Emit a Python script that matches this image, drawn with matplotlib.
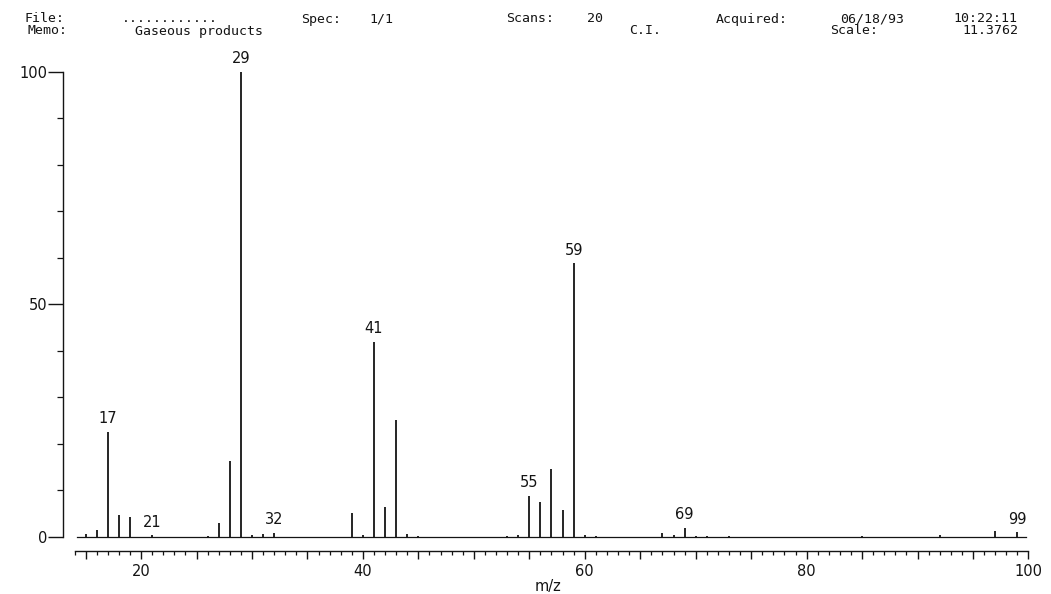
import matplotlib
matplotlib.use('Agg')
import matplotlib.pyplot as plt
from matplotlib.ticker import FixedLocator, FuncFormatter

# spectrum (m/z, relative intensity %)
mz = [15, 16, 17, 18, 19, 21, 26, 27, 28, 29, 30, 31, 32,
      39, 40, 41, 42, 43, 44, 45, 53, 54, 55, 56, 57, 58, 59, 60, 61,
      67, 68, 69, 70, 71, 73, 85, 92, 97, 99]
intensity = [0.7, 1.5, 22.6, 4.7, 4.3, 0.4, 0.3, 3.0, 16.3, 100.0, 0.4, 0.6, 0.9,
             5.1, 0.5, 41.9, 6.4, 25.1, 0.6, 0.3, 0.3, 0.4, 8.8, 7.5, 14.6, 5.8, 58.8, 0.5, 0.3,
             0.9, 0.5, 2.0, 0.3, 0.3, 0.2, 0.2, 0.4, 1.2, 1.0]
labelled = [17, 21, 29, 32, 41, 55, 59, 69, 99]

xlabels = [20, 40, 60, 80, 100]
ylabels = [0, 50, 100]

header_1 = ['File:', '............', 'Spec:', '1/1', 'Scans:', '20',
            'Acquired:', '06/18/93', '10:22:11']
header_2 = ['Memo:', 'Gaseous products', 'C.I.', 'Scale:', '11.3762']

# layout (pixels of the 1051x594 picture)
W, H = 1051, 594
hx_1 = [44, 170, 321, 381, 530, 595, 752, 872, 985]
hx_2 = [47, 199, 645, 854, 990]
ink = '#141414'

plt.rcParams['font.family'] = ['DejaVu Sans']

fig = plt.figure(figsize=(W / 100, H / 100), dpi=100)
ax = fig.add_axes([63 / W, 1 - 537 / H, (1034 - 63) / W, (537 - 71.5) / H])
ax.set_xlim(12.96, 100.5)
ax.set_ylim(0, 100)

# sticks and baseline
ax.plot([14.2, 99.8], [0, 0], color=ink, lw=0.9, clip_on=False)
ax.vlines(mz, 0, intensity, color=ink, lw=1.3, clip_on=False)

for m in labelled:
    v = intensity[mz.index(m)]
    ax.annotate(str(m), (m, v), xytext=(0, 4), textcoords='offset points',
                ha='center', va='bottom', fontsize=10.5, color=ink)

for s in ['top', 'right']:
    ax.spines[s].set_visible(False)
ax.spines['left'].set_bounds(0, 100)
ax.spines['bottom'].set_position(('outward', 10))
ax.spines['bottom'].set_bounds(14, 100)
for s in ['left', 'bottom']:
    ax.spines[s].set_color(ink)
    ax.spines[s].set_linewidth(1.0)

ax.xaxis.set_major_locator(FixedLocator(list(range(15, 101, 5))))
ax.xaxis.set_minor_locator(FixedLocator(list(range(14, 101))))
ax.xaxis.set_major_formatter(FuncFormatter(lambda v, p: '%d' % v if int(v) in xlabels else ''))
ax.yaxis.set_major_locator(FixedLocator(ylabels))
ax.yaxis.set_minor_locator(FixedLocator(list(range(10, 100, 10))))

ax.tick_params(axis='x', which='major', direction='out', length=5.8, width=1,
               pad=3.5, labelsize=10.5, colors=ink)
ax.tick_params(axis='x', which='minor', direction='out', length=2.6, width=0.9, colors=ink)
ax.tick_params(axis='y', which='major', direction='out', length=10.8, width=1,
               pad=0.7, labelsize=10.5, colors=ink)
ax.tick_params(axis='y', which='minor', direction='out', length=4.3, width=0.9, colors=ink)

ax.set_xlabel('m/z', fontsize=10.5, color=ink, labelpad=0)

for t, x in zip(header_1, hx_1):
    fig.text(x / W, 1 - 22.5 / H, t, ha='center', va='baseline', fontsize=9.5,
             family='DejaVu Sans Mono', color=ink)
for t, x in zip(header_2, hx_2):
    fig.text(x / W, 1 - 34.5 / H, t, ha='center', va='baseline', fontsize=9.5,
             family='DejaVu Sans Mono', color=ink)

fig.savefig('out.png', dpi=100, facecolor='white')
